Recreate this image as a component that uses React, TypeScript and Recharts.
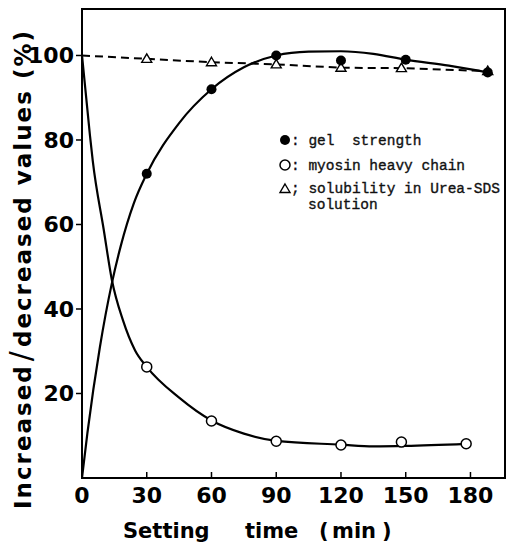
import React from 'react';
import { LineChart, Line, XAxis, YAxis, ReferenceArea } from 'recharts';

// Measured points (setting time in min)
const gelTimes = [30, 60, 90, 120, 150, 188];
const gelValues = [72, 92, 100, 98.8, 99, 96];

const myosinTimes = [30, 60, 90, 120, 148, 178];
const myosinValues = [26.3, 13.5, 8.7, 7.8, 8.5, 8.1];

const solTimes = [0, 30, 60, 90, 120, 148, 188];
const solValues = [100, 99.2, 98.4, 97.9, 97.1, 97.0, 96.3];

// Hand-fitted curves as drawn through the points
const gelCurveTimes = [0, 2.5, 8.3, 13.8, 18, 24, 30, 45, 60, 75, 90, 105, 120, 135, 150, 170, 188];
const gelCurveValues = [0, 10.6, 31, 46, 55, 65, 72, 84, 92, 97.2, 100, 100.9, 101, 100.4, 99, 97.6, 96];

const myosinCurveTimes = [0, 3.7, 5, 10, 13.8, 19, 24.6, 30, 45, 60, 75, 90, 120, 135, 150, 178];
const myosinCurveValues = [100, 81, 75, 59, 47, 37.3, 30.2, 26.3, 19, 13.6, 10.5, 8.8, 7.9, 7.5, 7.6, 8.1];

const xTicks = [0, 30, 60, 90, 120, 150, 180];
const yTicks = [20, 40, 60, 80, 100];

const zip = (ts: number[], vs: number[]) => ts.map((t, i) => ({ t, v: vs[i] }));

const gelPoints = zip(gelTimes, gelValues);
const myosinPoints = zip(myosinTimes, myosinValues);
const solPoints = zip(solTimes, solValues);
const gelCurve = zip(gelCurveTimes, gelCurveValues);
const myosinCurve = zip(myosinCurveTimes, myosinCurveValues);

const axisFont = { fontFamily: 'DejaVu Sans', fontWeight: 'bold', fontSize: 22, fill: '#000' };
const legendFont = { fontFamily: 'Liberation Mono', fontSize: 14.5, fill: '#111', stroke: '#111', strokeWidth: 0.35 };

const FilledDot = ({ cx, cy }: any) => <circle cx={cx} cy={cy} r={5} fill="#000" />;
const OpenDot = ({ cx, cy }: any) => (
  <circle cx={cx} cy={cy} r={5} fill="#fff" stroke="#000" strokeWidth={1.5} />
);
const Tri = ({ cx, cy }: any) => (
  <path
    d={`M${cx},${cy - 5}L${cx + 5},${cy + 3.5}L${cx - 5},${cy + 3.5}Z`}
    fill="#fff"
    stroke="#000"
    strokeWidth={1.4}
  />
);

const SolDot = (props: any) => (props.index === 0 ? <g key={props.key} /> : <Tri key={props.key} {...props} />);

export default function App() {
  return (
    <div style={{ position: 'absolute', left: 0, top: 0, background: '#fff' }}>
      <LineChart width={509} height={544} margin={{ top: 9, right: 4, bottom: 0, left: 0 }}>
        <XAxis
          type="number"
          dataKey="t"
          domain={[0, 196]}
          ticks={xTicks}
          interval={0}
          allowDataOverflow
          tickSize={-6}
          tickMargin={15}
          height={66}
          tick={axisFont}
          axisLine={{ stroke: '#000', strokeWidth: 2 }}
          tickLine={{ stroke: '#000', strokeWidth: 1.5 }}
        />
        <YAxis
          type="number"
          dataKey="v"
          domain={[0, 111]}
          ticks={yTicks}
          interval={0}
          allowDataOverflow
          width={82}
          tickSize={6}
          tickMargin={2}
          tick={axisFont}
          axisLine={{ stroke: '#000', strokeWidth: 2 }}
          tickLine={{ stroke: '#000', strokeWidth: 1.5 }}
        />
        <ReferenceArea x1={0} x2={196} y1={0} y2={111} fill="none" stroke="#000" strokeWidth={2} />

        <Line data={gelCurve} dataKey="v" type="monotone" stroke="#000" strokeWidth={2.2} dot={false} isAnimationActive={false} />
        <Line data={myosinCurve} dataKey="v" type="monotone" stroke="#000" strokeWidth={2.2} dot={false} isAnimationActive={false} />
        <Line
          data={solPoints}
          dataKey="v"
          type="linear"
          stroke="#000"
          strokeWidth={2}
          strokeDasharray="8 5"
          dot={SolDot}
          isAnimationActive={false}
        />
        <Line data={gelPoints} dataKey="v" stroke="none" dot={FilledDot} isAnimationActive={false} />
        <Line data={myosinPoints} dataKey="v" stroke="none" dot={OpenDot} isAnimationActive={false} />

        {/* axis titles */}
        <text
          x={31}
          y={269}
          transform="rotate(-90 31 269)"
          textAnchor="middle"
          {...axisFont}
          fontSize={23}
          letterSpacing={2}
        >
          Increased<tspan fontSize={30} fontWeight="normal" dx={3}>/</tspan>
          <tspan dx={2}>decreased values (%)</tspan>
        </text>
        <text y={538} {...axisFont} fontSize={21}>
          <tspan x={123}>Setting</tspan>
          <tspan x={245}>time</tspan>
          <tspan x={319}>(</tspan>
          <tspan x={332}>min</tspan>
          <tspan x={382}>)</tspan>
        </text>

        {/* legend */}
        <g>
          <FilledDot cx={285} cy={140} />
          <text x={291} y={145} {...legendFont} style={{ whiteSpace: 'pre' }}>{': gel  strength'}</text>
          <OpenDot cx={285} cy={165} />
          <text x={291} y={170} {...legendFont} style={{ whiteSpace: 'pre' }}>{': myosin heavy chain'}</text>
          <Tri cx={285} cy={189} />
          <text x={291} y={193} {...legendFont} style={{ whiteSpace: 'pre' }}>{'; solubility in Urea-SDS'}</text>
          <text x={308} y={209} {...legendFont}>solution</text>
        </g>
      </LineChart>
    </div>
  );
}
